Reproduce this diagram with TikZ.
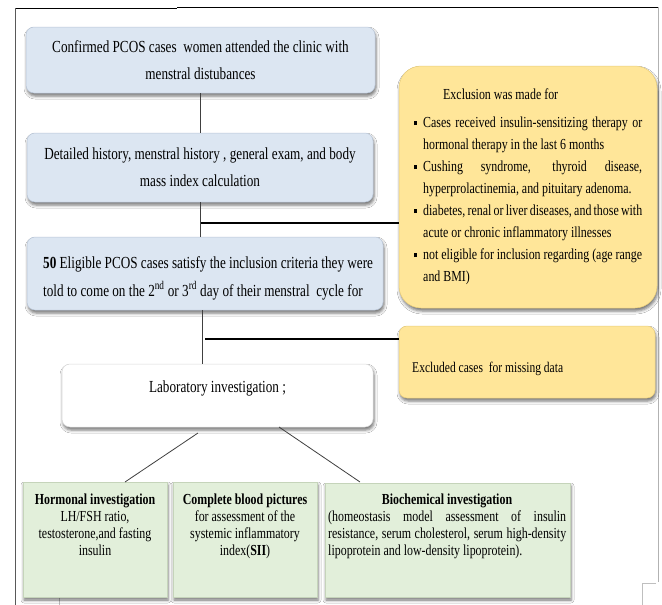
\documentclass[tikz,border=0pt]{standalone}
\usepackage{fontspec}
\setmainfont{Liberation Serif}[FakeStretch=0.78]
\usetikzlibrary{shadows.blur}
\definecolor{bluefill}{HTML}{DCE6F2}
\definecolor{blueline}{HTML}{B9C6D8}
\definecolor{yellowfill}{HTML}{FFE699}
\definecolor{yellowline}{HTML}{E8CD7A}
\definecolor{greenfill}{HTML}{E2EFDA}
\definecolor{greenline}{HTML}{C5D4BA}
\definecolor{lineclr}{HTML}{404040}
\newcommand{\bluetxt}{\fontsize{16.9}{27}\selectfont}
\newcommand{\yeltxt}{\fontsize{15.3}{22}\selectfont}
\newcommand{\exctxt}{\fontsize{14.8}{17}\selectfont}
\newcommand{\grntxt}{\fontsize{15.3}{17}\selectfont}
\newcommand{\sqb}{\llap{\rule[2pt]{3pt}{3.6pt}\hspace{6.5pt}}}
\begin{document}
\begin{tikzpicture}[x=1pt,y=-1pt,
  shadowed/.style={blur shadow={shadow xshift=1pt,shadow yshift=-3pt,shadow blur radius=3pt,shadow opacity=55}},
  bluebox/.style={shadowed,fill=bluefill,draw=blueline,line width=0.5pt,rounded corners=8pt,inner sep=0pt,align=center,font=\bluetxt},
  whitebox/.style={shadowed,fill=white,draw=gray!30,line width=0.5pt,rounded corners=8pt,inner sep=0pt},
  yellowbox/.style={shadowed,fill=yellowfill,draw=yellowline,line width=0.5pt,inner sep=0pt},
  greenbox/.style={shadowed,fill=greenfill,draw=greenline,line width=0.5pt,inner sep=0pt},
  conn/.style={draw=lineclr,line width=0.9pt},
  branch/.style={draw=black,line width=1.4pt},
  diag/.style={draw=lineclr,line width=0.8pt},
  txt/.style={inner sep=0pt,anchor=base},
]
\useasboundingbox (0,0) rectangle (662,605);
\fill[white] (0,0) rectangle (662,605);

% frame
\draw[black,line width=0.9pt] (15,8.5) -- (177,8.5);
\draw[black,line width=0.9pt] (177,7.5) -- (658,7.5);
\draw[gray!70!black,line width=0.9pt] (15,8) -- (15,605);
\draw[gray!60,line width=0.8pt] (658,7) -- (658,582);
\draw[gray!50,line width=0.6pt] (656,583) -- (642,583) -- (642,605);
\draw[gray!50,line width=0.6pt] (59,597) -- (59,605);

% blue boxes
\node[bluebox,minimum width=349pt,minimum height=66pt] (b1) at (200.5,60)
  {Confirmed PCOS cases\ \ women attended the clinic with\\menstral distubances};
\node[bluebox,minimum width=346pt,minimum height=69pt] (b2) at (200,167.5)
  {Detailed history, menstral history , general exam, and body\\mass index calculation};
\node[bluebox,minimum width=356pt,minimum height=73pt] (b3) at (205,273.5) {};
\node[txt,anchor=base west,font=\bluetxt] (t3a) at (43,268)
  {\textbf{50} Eligible PCOS cases satisfy the inclusion criteria they were};
\node[txt,anchor=base west,font=\bluetxt] (t3b) at (43,296)
  {told to come on the 2\textsuperscript{nd} or 3\textsuperscript{rd} day of their menstral\ \ cycle for};

% laboratory box
\node[whitebox,minimum width=311pt,minimum height=63pt] (b4) at (217.5,395.5) {};
\node[txt,font=\bluetxt] (t4) at (217.5,392) {Laboratory investigation ;};

% exclusion box
\node[yellowbox,rounded corners=22pt,minimum width=258pt,minimum height=242pt] (y1) at (528,187) {};
\node[txt,anchor=base west,font=\yeltxt] (y1h) at (443,99.5) {Exclusion was made for};
\node[txt,anchor=base west,align=left,font=\yeltxt] (y1l) at (423,281)
  {\sqb\makebox[219pt][s]{Cases received insulin-sensitizing therapy or}\\
   hormonal therapy in the last 6 months\\
   \sqb\makebox[219pt][s]{Cushing syndrome, thyroid disease,}\\
   hyperprolactinemia, and pituitary adenoma.\\
   \sqb\makebox[219pt][s]{diabetes, renal or liver diseases, and those with}\\
   acute or chronic inflammatory illnesses\\
   \sqb\makebox[219pt][s]{not eligible for inclusion regarding (age range}\\
   and BMI)};

% missing data box
\node[yellowbox,rounded corners=8pt,minimum width=256pt,minimum height=72pt] (y2) at (527,362) {};
\node[txt,anchor=base west,font=\exctxt] (y2t) at (412,372.5) {Excluded cases\ \ for missing data};

% green boxes
\node[greenbox,minimum width=144pt,minimum height=115pt] (g1) at (95,539.5) {};
\node[txt,align=center,font=\grntxt] (g1t) at (95,555)
  {\textbf{Hormonal investigation}\\LH/FSH ratio,\\testosterone,and fasting\\insulin};
\node[greenbox,minimum width=144pt,minimum height=115pt] (g2) at (245,539.5) {};
\node[txt,align=center,font=\grntxt] (g2t) at (245,555)
  {\textbf{Complete blood pictures}\\for assessment of the\\systemic inflammatory\\index(\textbf{SII})};
\node[greenbox,minimum width=245pt,minimum height=114pt] (g3) at (447.5,540) {};
\node[txt,font=\grntxt] (g3h) at (447,504) {\textbf{Biochemical investigation}};
\node[txt,anchor=base west,align=left,font=\grntxt] (g3t) at (328,555)
  {\makebox[238pt][s]{(homeostasis model assessment of insulin}\\
   \makebox[238pt][s]{resistance, serum cholesterol, serum high-density}\\
   lipoprotein and low-density lipoprotein).};

% connectors
\coordinate (j1) at (200.5,223);
\coordinate (j2) at (202,339);
\draw[conn] (b1.south) -- (b2.north -| b1.south);
\draw[conn] (b2.south -| j1) -- (b3.north -| j1);
\draw[branch] (j1) -- (j1 -| y1.west);
\draw[conn] (b3.south -| j2) -- (b4.north -| j2);
\draw[branch] ([xshift=3pt]j2) -- (j2 -| y2.west);
\coordinate (d1a) at (198,433);
\coordinate (d1b) at (125,482);
\coordinate (d2a) at (279,427);
\coordinate (d2b) at (360,482);
\draw[diag] (d1a) -- (d1b);
\draw[diag] (d2a) -- (d2b);
\end{tikzpicture}
\end{document}
